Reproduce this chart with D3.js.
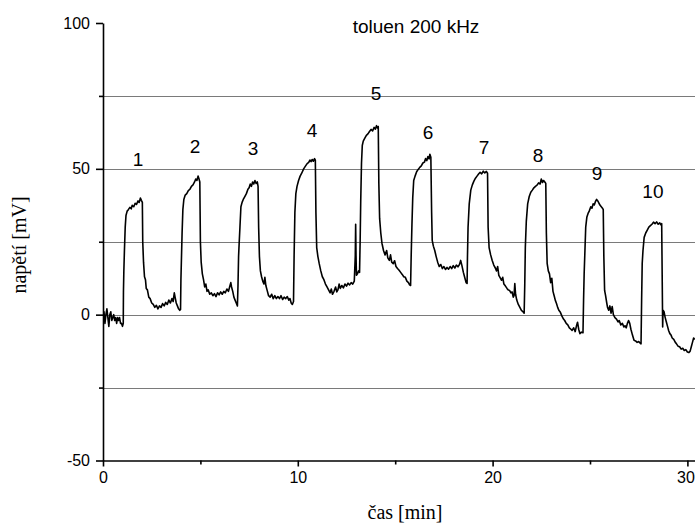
<html>
<head>
<meta charset="utf-8">
<title>toluen 200 kHz</title>
<style>
  body { margin: 0; background: #fff; }
  .tick text { font-family: Arial, "Liberation Sans", sans-serif; }
</style>
</head>
<body>
<script src="https://cdnjs.cloudflare.com/ajax/libs/d3/7.8.5/d3.min.js" charset="utf-8"></script>
<script>

// cas [min]
var cas = [
  0, 0.05, 0.1, 0.15, 0.2, 0.25, 0.3, 0.35, 0.4, 0.45, 0.5, 0.55, 0.6, 0.65, 0.7, 0.75, 0.8, 0.85, 0.9, 0.95, 1.0, 1.04,
  1.05, 1.07, 1.1, 1.14, 1.18, 1.24, 1.3, 1.38, 1.45, 1.5, 1.58, 1.65, 1.72, 1.8, 1.86, 1.92, 1.97, 2.02,
  2.04, 2.08, 2.13, 2.18, 2.22, 2.28, 2.35, 2.42, 2.5, 2.58, 2.66, 2.74, 2.82, 2.9, 2.98, 3.06, 3.14, 3.22, 3.3, 3.38, 3.46, 3.54, 3.6, 3.66, 3.7, 3.76, 3.82, 3.88, 3.94, 3.98,
  4.0, 4.03, 4.06, 4.1, 4.15, 4.22, 4.3, 4.38, 4.46, 4.54, 4.62, 4.7, 4.76, 4.82, 4.88, 4.93, 4.97,
  5.0, 5.04, 5.1, 5.16, 5.22, 5.28, 5.34, 5.4, 5.48, 5.56, 5.64, 5.72, 5.8, 5.88, 5.96, 6.04, 6.12, 6.2, 6.28, 6.36, 6.44, 6.5, 6.56, 6.6, 6.66, 6.72, 6.78, 6.84, 6.9,
  6.93, 6.96, 6.99, 7.03, 7.08, 7.14, 7.2, 7.28, 7.36, 7.44, 7.5, 7.56, 7.62, 7.68, 7.74, 7.8, 7.86, 7.92, 7.96,
  7.99, 8.03, 8.08, 8.14, 8.2, 8.26, 8.31, 8.36, 8.42, 8.5, 8.58, 8.66, 8.74, 8.82, 8.9, 8.98, 9.06, 9.14, 9.22, 9.3, 9.38, 9.46, 9.54, 9.6, 9.66, 9.72, 9.78,
  9.81, 9.85, 9.9, 9.96, 10.04, 10.12, 10.2, 10.3, 10.4, 10.48, 10.56, 10.62, 10.68, 10.74, 10.8, 10.86, 10.9,
  10.93, 10.97, 11.03, 11.1, 11.18, 11.26, 11.34, 11.42, 11.5, 11.58, 11.66, 11.72, 11.78, 11.86, 11.94, 12.0, 12.06, 12.12, 12.18, 12.26, 12.34, 12.42, 12.5, 12.58, 12.66, 12.74, 12.82, 12.9, 12.95, 12.97, 12.99, 13.01, 13.06, 13.12, 13.17,
  13.2, 13.23, 13.27, 13.31, 13.36, 13.44, 13.52, 13.6, 13.68, 13.76, 13.84, 13.92, 13.98, 14.04, 14.09, 14.13,
  14.16, 14.2, 14.26, 14.32, 14.4, 14.48, 14.56, 14.62, 14.7, 14.76, 14.82, 14.9, 14.97, 15.04, 15.12, 15.2, 15.28, 15.36, 15.44, 15.52, 15.6, 15.68, 15.74, 15.79,
  15.82, 15.86, 15.9, 15.95, 16.02, 16.1, 16.18, 16.26, 16.34, 16.42, 16.5, 16.56, 16.62, 16.68, 16.74, 16.78, 16.83,
  16.87, 16.9, 16.96, 17.03, 17.1, 17.18, 17.26, 17.34, 17.42, 17.5, 17.58, 17.66, 17.74, 17.82, 17.9, 17.98, 18.06, 18.14, 18.22, 18.3, 18.36, 18.42, 18.5, 18.58, 18.64, 18.69,
  18.71, 18.74, 18.8, 18.88, 18.96, 19.04, 19.12, 19.2, 19.28, 19.36, 19.44, 19.52, 19.6, 19.68, 19.74,
  19.77, 19.82, 19.9, 19.98, 20.06, 20.14, 20.2, 20.26, 20.32, 20.4, 20.46, 20.52, 20.58, 20.66, 20.74, 20.8, 20.87, 20.94, 21.0, 21.06, 21.1, 21.14, 21.18, 21.24, 21.32, 21.4, 21.48, 21.56, 21.62,
  21.65, 21.68, 21.73, 21.8, 21.88, 21.96, 22.04, 22.12, 22.2, 22.28, 22.36, 22.44, 22.5, 22.56, 22.62, 22.68, 22.73,
  22.76, 22.8, 22.86, 22.92, 22.98, 23.04, 23.1, 23.16, 23.22, 23.28, 23.34, 23.4, 23.48, 23.56, 23.64, 23.7, 23.78, 23.86, 23.94, 24.02, 24.08, 24.16, 24.24, 24.3, 24.36, 24.42, 24.48, 24.56, 24.64,
  24.67, 24.7, 24.74, 24.78, 24.84, 24.9, 24.96, 25.04, 25.1, 25.16, 25.22, 25.28, 25.34, 25.4, 25.46, 25.52, 25.58, 25.64, 25.68,
  25.71, 25.75, 25.8, 25.86, 25.9, 25.96, 26.02, 26.08, 26.14, 26.2, 26.28, 26.36, 26.44, 26.5, 26.58, 26.66, 26.74, 26.8, 26.86, 26.92, 26.98, 27.04, 27.1, 27.18, 27.26, 27.34, 27.42, 27.5, 27.58, 27.62,
  27.65, 27.68, 27.72, 27.78, 27.86, 27.94, 28.02, 28.1, 28.18, 28.26, 28.34, 28.42, 28.5, 28.58, 28.64, 28.68,
  28.71, 28.73, 28.75, 28.8, 28.86, 28.92, 28.98, 29.04, 29.1, 29.16, 29.22, 29.3, 29.38, 29.44, 29.52, 29.6, 29.68, 29.76, 29.84, 29.92, 30.0, 30.08, 30.14, 30.2, 30.26, 30.32, 30.38
];

// napeti [mV]
var napeti = [
  -2, 1, -3, 0, 2, -1, -4, 0, 1, -2, -1, 0, -2, -1, -3, -1, -2, -1, -3, -3, -4, -3,
  8, 15, 22, 30, 34, 35.5, 36, 36.8, 36.3, 37.5, 37, 38.2, 37.8, 39, 38.5, 40, 39.2, 38.5,
  25, 18, 13, 12, 9, 8.5, 6, 5.5, 4, 3.5, 2.5, 3.2, 2, 3, 2.5, 3.8, 3, 4.2, 3.5, 5, 4, 5.5, 4.5, 7.5, 6, 4, 3, 2, 1.5, 1.8,
  12, 20, 28, 36, 39.5, 41, 41.5, 42.5, 43, 44, 44.5, 45.5, 46.5, 46, 47.5, 46.5, 45.5,
  25, 18, 14, 12, 9.5, 10.5, 8, 8.5, 7, 7.5, 6.5, 7.2, 6.2, 7.5, 6.8, 7.8, 7, 8, 7.5, 8.8, 8, 9.5, 11, 9.5, 8, 6, 5, 4, 3,
  10, 20, 24.5, 30, 37, 38.5, 39.5, 40.5, 41.5, 43, 43.5, 44.8, 44, 45.5, 44.8, 46, 45, 45.5, 44,
  30, 20, 15, 13, 11.5, 10.5, 12.8, 10, 8.5, 6.5, 6, 7, 5.5, 6.5, 5.5, 6.2, 5.5, 6.5, 5.2, 6, 5.5, 6.2, 5, 5.5, 4, 3.5, 4.5,
  20, 35, 41.5, 44, 46, 47.5, 48.5, 50, 51, 51.8, 52.2, 53, 52.5, 53.2, 52.6, 53.5, 53,
  35, 23, 20, 17.5, 15, 13, 12, 10.5, 9.5, 8.5, 7.5, 8.8, 7, 8, 9.5, 7.8, 8.5, 10.5, 9, 10, 9.2, 10.5, 9.8, 10.8, 10.2, 11, 10.5, 11.5, 20, 31, 20, 13.5, 14, 15, 14.5,
  25, 39, 52, 58, 59.5, 60.5, 61.5, 62, 62.8, 63.5, 63, 64.2, 63.6, 64.8, 64, 64.5,
  45, 33, 28, 24.5, 22, 20.5, 22, 19.5, 18.6, 20.5, 18, 17.5, 18.5, 16.5, 15.8, 15.2, 14.5, 13.8, 13, 12.8, 11.5, 11, 10.2, 10,
  20, 31, 40, 46, 47.5, 49, 49.8, 50.5, 51, 52, 52.3, 53.5, 52.8, 54.2, 53.4, 55, 54,
  35, 25.5, 23.5, 22, 20, 18, 16.5, 17.2, 15.8, 16.5, 15.5, 16.2, 15.6, 16.5, 15.8, 16.8, 16, 17, 16.4, 17.2, 18.6, 17, 14.5, 12.5, 11, 10.7,
  20, 30, 38, 42.7, 44.5, 45.8, 46.8, 47.5, 48.2, 48.8, 48.3, 49.2, 48.6, 49.1, 48.5,
  30, 23, 20.5, 18.6, 17, 16, 15, 16.5, 13.5, 12.5, 11.8, 12.8, 10.5, 9.8, 9, 8.5, 8.3, 7.5, 7.8, 6, 6.5, 10.7, 7, 5, 3.5, 2.5, 1.5, 1, 0.5,
  10, 23, 32, 38, 40.5, 42, 42.7, 43.5, 44, 44.4, 45.2, 44.8, 46.5, 45.3, 46, 45.5, 45,
  28, 17.6, 15, 14, 11, 12.5, 8, 6.5, 4.9, 3.8, 2.5, 1.5, 0.8, -0.5, -1.5, -2, -3, -3.5, -4.5, -5, -5.4, -4.5, -5.8, -4, -2.6, -5, -6.5, -6, -6.2,
  5, 14, 22, 30, 33.5, 34.7, 35.5, 37, 36.5, 38, 37.6, 38.8, 39.5, 39, 38.2, 37.5, 37, 36.5, 36,
  20, 8.3, 6.5, 4, 2.5, 1.5, 3, 0.5, 2.8, 0, -1, -1.5, -2.5, -2, -3.5, -3, -4.2, -3.8, -4.5, -3, -2, -3, -5, -7, -8.8, -9, -9.5, -9.2, -9.8, -10,
  5, 17.6, 22, 26.5, 28, 29, 30, 30.5, 31, 31.7, 31.2, 31.8, 31, 31.5, 30.8, 31.2,
  10, -4.2, 1.5, 1, -1, -2.5, -4, -5.5, -6.5, -7, -8, -8.5, -9.5, -10, -10.8, -11, -11.8, -11.5, -12.3, -12, -12.8, -13, -12.5, -11, -9.5, -8, -8.5
];

// cisla pulzu
var pulzy  = ["1", "2", "3", "4", "5", "6", "7", "8", "9", "10"];
var pulzyT = [1.8, 4.72, 7.7, 10.73, 14.01, 16.68, 19.56, 22.33, 25.36, 28.23];
var pulzyV = [51.1, 55.4, 54.7, 60.9, 73.6, 60.2, 55.0, 52.3, 46.1, 39.9];

var xTicks = [0, 10, 20, 30];
var xMinor = [5, 15, 25];
var yTicks = [-50, 0, 50, 100];
var yMinor = [-25, 25, 75];
var gridY  = [-25, 0, 25, 50, 75];

var width = 695, height = 527;

var svg = d3.select("body").append("svg")
  .attr("width", width)
  .attr("height", height);

var x = d3.scaleLinear().domain([0, 30.39]).range([103, 695]);
var y = d3.scaleLinear().domain([-50, 100]).range([460.5, 23]);

// mrizka
svg.selectAll("line.grid")
  .data(gridY)
  .enter().append("line")
  .attr("class", "grid")
  .attr("x1", x(0)).attr("x2", width)
  .attr("y1", function(d){ return Math.round(y(d)) + 0.5; })
  .attr("y2", function(d){ return Math.round(y(d)) + 0.5; })
  .attr("stroke", "#7a7a7a")
  .attr("stroke-width", 1.2);

// data
svg.append("defs").append("clipPath").attr("id", "clip")
  .append("rect").attr("x", x(0)).attr("y", 0).attr("width", width - x(0)).attr("height", y(-50));

var line = d3.line()
  .x(function(d, i){ return x(cas[i]); })
  .y(function(d){ return y(d); });

svg.append("path")
  .datum(napeti)
  .attr("clip-path", "url(#clip)")
  .attr("fill", "none")
  .attr("stroke", "#000")
  .attr("stroke-width", 1.6)
  .attr("stroke-linejoin", "round")
  .attr("d", line);

// osy
var fmt = function(d){ return String(d); };

svg.append("g")
  .attr("transform", "translate(0," + y(-50) + ")")
  .call(d3.axisBottom(x).tickValues(xTicks).tickFormat(fmt).tickSize(6).tickSizeOuter(0).tickPadding(5))
  .selectAll(".tick text")
  .attr("dx", function(d){ return d === 30 ? "-2" : "0"; });
svg.append("g")
  .attr("transform", "translate(0," + y(-50) + ")")
  .call(d3.axisBottom(x).tickValues(xMinor).tickSize(4).tickSizeOuter(0).tickFormat(""))
  .select(".domain").remove();

svg.append("g")
  .attr("transform", "translate(" + x(0) + ",0)")
  .call(d3.axisLeft(y).tickValues(yTicks).tickFormat(fmt).tickSize(7).tickSizeOuter(0).tickPadding(6));
svg.append("g")
  .attr("transform", "translate(" + x(0) + ",0)")
  .call(d3.axisLeft(y).tickValues(yMinor).tickSize(4).tickSizeOuter(0).tickFormat(""))
  .select(".domain").remove();

svg.selectAll(".domain, .tick line")
  .attr("stroke", "#000")
  .attr("stroke-width", 1.6);
svg.selectAll(".tick text")
  .attr("font-size", "16px")
  .attr("fill", "#000");

// cisla pulzu
svg.selectAll("text.pulz")
  .data(pulzy)
  .enter().append("text")
  .attr("class", "pulz")
  .attr("x", function(d, i){ return x(pulzyT[i]); })
  .attr("y", function(d, i){ return y(pulzyV[i]); })
  .attr("text-anchor", "middle")
  .attr("font-family", "Arial, 'Liberation Sans', sans-serif")
  .attr("font-size", "19px")
  .text(function(d){ return d; });

// nadpis
svg.append("text")
  .attr("x", 416).attr("y", 33)
  .attr("text-anchor", "middle")
  .attr("font-family", "Arial, 'Liberation Sans', sans-serif")
  .attr("font-size", "19px")
  .text("toluen 200 kHz");

// popisky os
svg.append("text")
  .attr("x", 405).attr("y", 519)
  .attr("text-anchor", "middle")
  .attr("font-family", "'Times New Roman', 'Liberation Serif', serif")
  .attr("font-size", "20px")
  .text("čas [min]");

svg.append("text")
  .attr("transform", "translate(26,245) rotate(-90)")
  .attr("text-anchor", "middle")
  .attr("font-family", "'Times New Roman', 'Liberation Serif', serif")
  .attr("font-size", "20px")
  .text("napětí [mV]");

</script>
</body>
</html>
